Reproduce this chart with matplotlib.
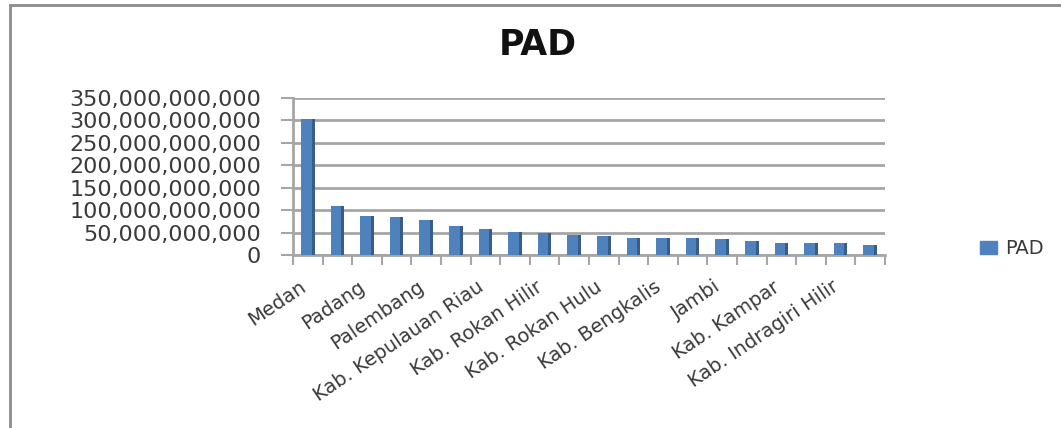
import matplotlib
matplotlib.use("Agg")
import matplotlib.pyplot as plt
from matplotlib.ticker import FuncFormatter, MultipleLocator
from matplotlib.patches import Rectangle, Patch
import matplotlib.transforms as mtrans
import numpy as np

# regions (only every other name is printed on the axis)
regions = ["Medan", "Pekanbaru", "Padang", "Batam", "Palembang", "Kab. Kuantan Singingi",
           "Kab. Kepulauan Riau", "Kab. Siak", "Kab. Rokan Hilir", "Kab. Pelalawan",
           "Kab. Rokan Hulu", "Dumai", "Kab. Bengkalis", "Kab. Indragiri Hulu",
           "Jambi", "Kab. Karimun", "Kab. Kampar", "Kab. Natuna",
           "Kab. Indragiri Hilir", "Tanjung Pinang"]
pad = [303e9, 110e9, 88e9, 85e9, 78e9, 64e9, 58e9, 52e9, 48e9, 45e9,
       42e9, 37e9, 37e9, 37e9, 35e9, 31e9, 26e9, 26e9, 26e9, 23e9]

blue = "#4F81BD"
blue_dark = "#385D8A"
grid_c = "#A6A6A6"
txt_c = "#3A3A3A"

plt.rcParams['font.family'] = ['DejaVu Sans']

fig = plt.figure(figsize=(10.61, 4.28), dpi=100)
fig.patches.append(Rectangle((10/1061, -0.1), 1.2, 1 - 5/428 + 0.1,
                             transform=fig.transFigure, fill=False,
                             edgecolor="#8C8C8C", lw=2))

ax = fig.add_axes([293/1061, 1 - 255/428, 592/1061, 157/428])
x = np.arange(len(regions))
w = 0.36
ax.bar(x - 0.05, pad, width=w, color=blue, zorder=3)
ax.bar(x - 0.05 + w/2 + 0.05, pad, width=0.1, color=blue_dark, zorder=3)

ax.set_xlim(-0.5, len(regions) - 0.5)
ax.set_ylim(0, 350e9)
ax.yaxis.set_major_locator(MultipleLocator(50e9))
ax.yaxis.set_major_formatter(FuncFormatter(lambda v, p: "{:,.0f}".format(v)))
ax.grid(axis="y", color=grid_c, lw=2, zorder=0)

ax.set_xticks(x[::2])
ax.set_xticklabels(regions[::2], rotation=34, ha="right", rotation_mode="anchor",
                   fontsize=14, color=txt_c)
ax.set_xticks(np.arange(-0.5, len(regions)), minor=True)
ax.tick_params(axis="x", which="major", length=0, pad=16)
ax.tick_params(axis="x", which="minor", length=7, width=1.5, color=grid_c)
ax.tick_params(axis="y", length=9, width=1.5, color=grid_c, labelsize=16,
               labelcolor=txt_c, pad=14)

# nudge rotated labels a little to the left
shift = mtrans.ScaledTranslation(-9/100, 0, fig.dpi_scale_trans)
for lab in ax.get_xticklabels():
    lab.set_transform(lab.get_transform() + shift)

for s in ["top", "right"]:
    ax.spines[s].set_visible(False)
for s in ["left", "bottom"]:
    ax.spines[s].set_color(grid_c)
    ax.spines[s].set_linewidth(2)

fig.text(538/1061, 1 - 45/428, "PAD", ha="center", va="center",
         fontsize=25, fontweight="bold", color="#111111")

fig.legend(handles=[Patch(color=blue, label="PAD")], loc="center left",
           bbox_to_anchor=(962/1061, 1 - 249/428), frameon=False,
           fontsize=14, handlelength=0.9, handleheight=0.6, handletextpad=0.4,
           labelcolor=txt_c)

fig.savefig("out.png", dpi=100)
